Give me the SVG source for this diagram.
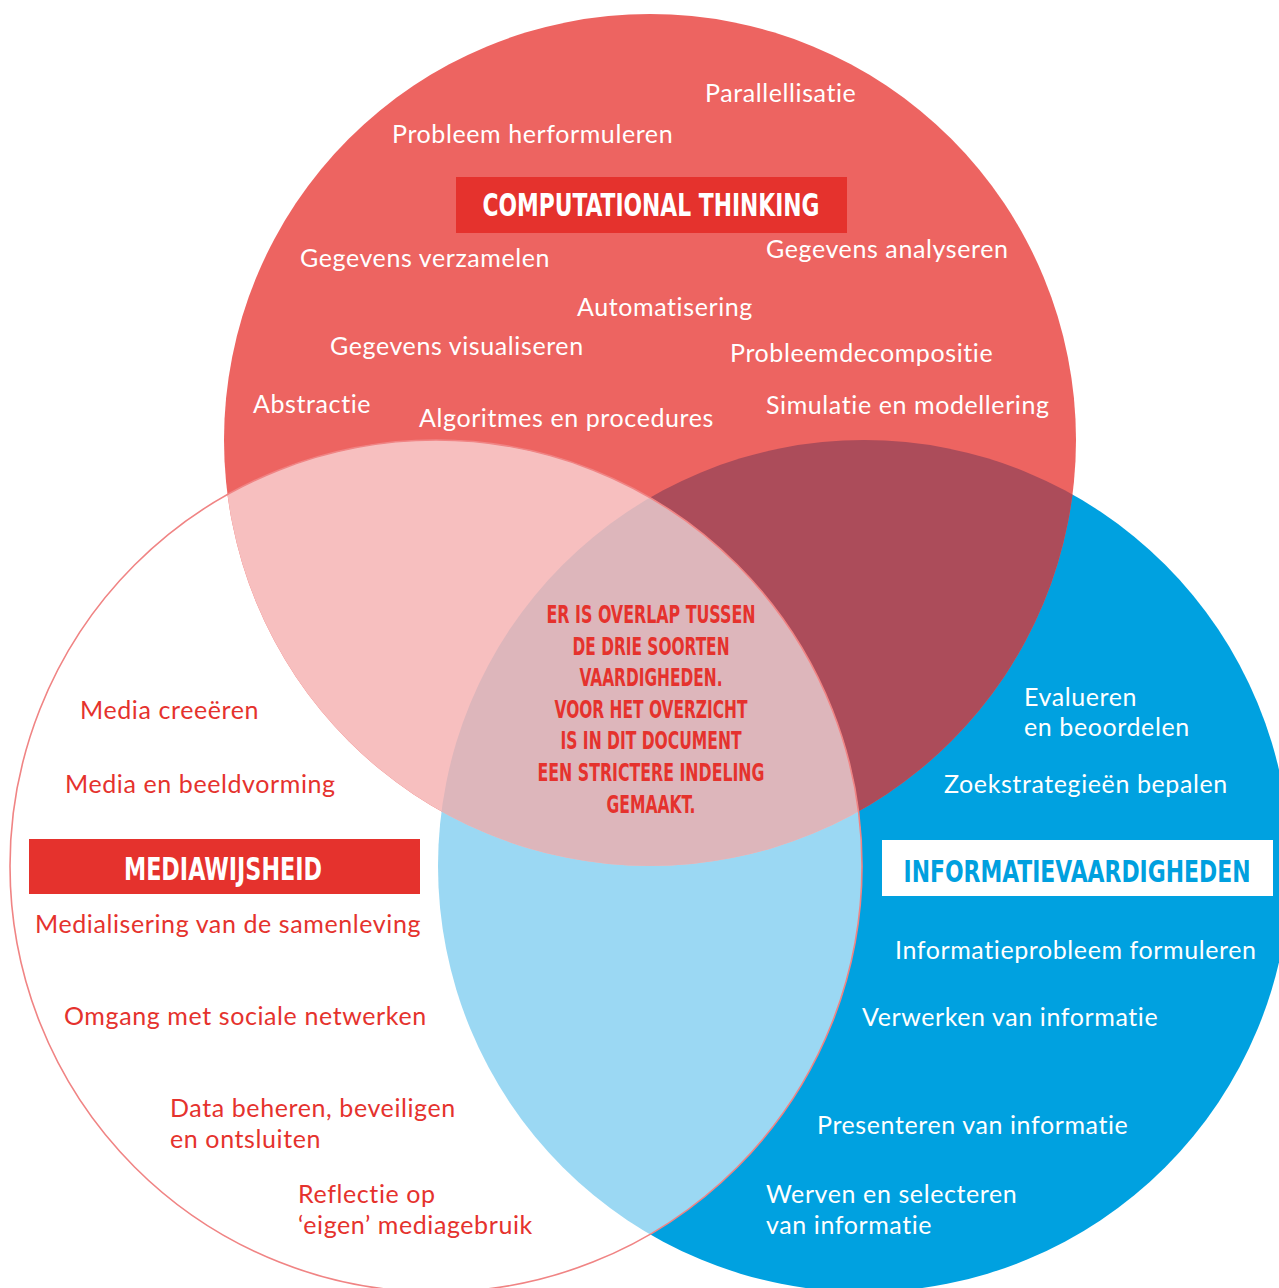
<svg xmlns="http://www.w3.org/2000/svg" width="1279" height="1288" viewBox="0 0 1279 1288">
<style>
.lbl{font-family:Lato,"Noto Sans",sans-serif;font-size:25px;letter-spacing:0.6px}
.w{fill:#ffffff}
.r{fill:#E5322D}
.hd{font-family:"Liberation Sans Narrow","DejaVu Sans Condensed",sans-serif;font-weight:bold;text-anchor:middle}
.ctr{font-family:"Liberation Sans Narrow","DejaVu Sans Condensed",sans-serif;font-weight:bold;font-size:24px;fill:#E5322D;text-anchor:middle}
</style>
<defs>
<clipPath id="cRed"><circle cx="650" cy="440" r="426"/></clipPath>
<clipPath id="cBlue"><circle cx="864" cy="866" r="426"/></clipPath>
</defs>
<g id="circles">
<circle id="blueCircle" cx="864" cy="866" r="426" fill="#00A1E0"/>
<circle id="leftCircle" cx="436" cy="866" r="426" fill="#ffffff"/>
<circle id="redCircle" cx="650" cy="440" r="426" fill="#ED6461"/>
<circle cx="650" cy="440" r="426" fill="#AC4C5A" clip-path="url(#cBlue)"/>
<circle cx="436" cy="866" r="426" fill="#9BD8F3" clip-path="url(#cBlue)"/>
<circle cx="436" cy="866" r="426" fill="#F7BFBF" clip-path="url(#cRed)"/>
<g clip-path="url(#cBlue)"><circle cx="436" cy="866" r="426" fill="#DDB6BB" clip-path="url(#cRed)"/></g>
<circle cx="436" cy="866" r="426" fill="none" stroke="#F08484" stroke-width="1.6"/>
</g>
<g id="connectors"></g>
<g id="ct-heading">
<rect x="456" y="177" width="391" height="56" fill="#E5322D"/>
<text class="hd w" x="651" y="216" font-size="32" textLength="337" lengthAdjust="spacingAndGlyphs">COMPUTATIONAL THINKING</text>
</g>
<g id="mw-heading">
<rect x="29" y="839" width="391" height="55" fill="#E5322D"/>
<text class="hd w" x="223" y="880" font-size="32" textLength="198" lengthAdjust="spacingAndGlyphs">MEDIAWIJSHEID</text>
</g>
<g id="iv-heading">
<rect x="882" y="840" width="391" height="56" fill="#ffffff"/>
<text class="hd" fill="#00A0DF" x="1077" y="882" font-size="30" textLength="347" lengthAdjust="spacingAndGlyphs">INFORMATIEVAARDIGHEDEN</text>
</g>
<g id="center-note">
<text class="ctr" x="651" y="623" textLength="209" lengthAdjust="spacingAndGlyphs">ER IS OVERLAP TUSSEN</text>
<text class="ctr" x="651" y="655" textLength="157" lengthAdjust="spacingAndGlyphs">DE DRIE SOORTEN</text>
<text class="ctr" x="651" y="686" textLength="143" lengthAdjust="spacingAndGlyphs">VAARDIGHEDEN.</text>
<text class="ctr" x="651" y="718" textLength="193" lengthAdjust="spacingAndGlyphs">VOOR HET OVERZICHT</text>
<text class="ctr" x="651" y="749" textLength="181" lengthAdjust="spacingAndGlyphs">IS IN DIT DOCUMENT</text>
<text class="ctr" x="651" y="781" textLength="227" lengthAdjust="spacingAndGlyphs">EEN STRICTERE INDELING</text>
<text class="ctr" x="651" y="813" textLength="89" lengthAdjust="spacingAndGlyphs">GEMAAKT.</text>
</g>
<g id="ct-items">
<text class="lbl w" x="705" y="102">Parallellisatie</text>
<text class="lbl w" x="392" y="143">Probleem herformuleren</text>
<text class="lbl w" x="300" y="267">Gegevens verzamelen</text>
<text class="lbl w" x="766" y="258">Gegevens analyseren</text>
<text class="lbl w" x="577" y="316">Automatisering</text>
<text class="lbl w" x="330" y="355">Gegevens visualiseren</text>
<text class="lbl w" x="730" y="362">Probleemdecompositie</text>
<text class="lbl w" x="253" y="413">Abstractie</text>
<text class="lbl w" x="419" y="427">Algoritmes en procedures</text>
<text class="lbl w" x="766" y="414">Simulatie en modellering</text>
</g>
<g id="mw-items">
<text class="lbl r" x="80" y="719">Media creeëren</text>
<text class="lbl r" x="65" y="793">Media en beeldvorming</text>
<text class="lbl r" x="35" y="933">Medialisering van de samenleving</text>
<text class="lbl r" x="64" y="1025">Omgang met sociale netwerken</text>
<text class="lbl r" x="170" y="1117">Data beheren, beveiligen</text>
<text class="lbl r" x="170" y="1148">en ontsluiten</text>
<text class="lbl r" x="298" y="1203">Reflectie op</text>
<text class="lbl r" x="298" y="1234">‘eigen’ mediagebruik</text>
</g>
<g id="iv-items">
<text class="lbl w" x="1024" y="706">Evalueren</text>
<text class="lbl w" x="1024" y="736">en beoordelen</text>
<text class="lbl w" x="944" y="793">Zoekstrategieën bepalen</text>
<text class="lbl w" x="895" y="959">Informatieprobleem formuleren</text>
<text class="lbl w" x="862" y="1026">Verwerken van informatie</text>
<text class="lbl w" x="817" y="1134">Presenteren van informatie</text>
<text class="lbl w" x="766" y="1203">Werven en selecteren</text>
<text class="lbl w" x="766" y="1234">van informatie</text>
</g>
</svg>
